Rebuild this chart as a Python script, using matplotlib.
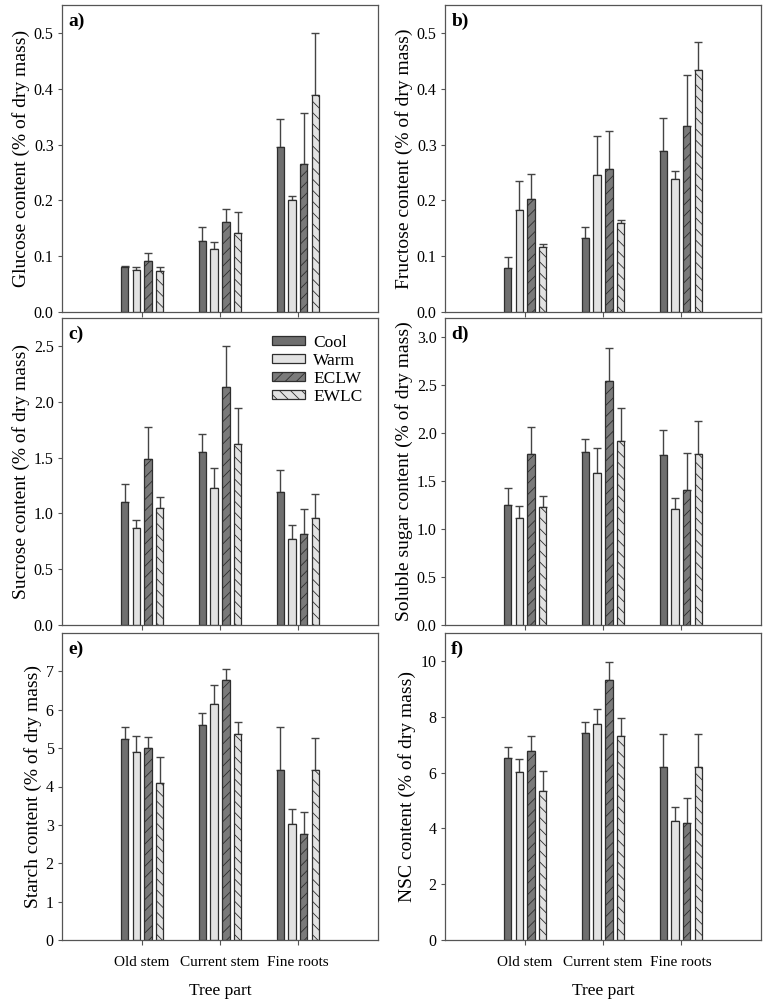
import matplotlib
matplotlib.use("Agg")
import matplotlib.pyplot as plt
import numpy as np
from matplotlib.ticker import FormatStrFormatter

plt.rcParams['font.family'] = ['Liberation Serif', 'DejaVu Serif']
plt.rcParams['hatch.linewidth'] = 0.6

parts = ["Old stem", "Current stem", "Fine roots"]
treatments = ["Cool", "Warm", "ECLW", "EWLC"]

# rows: Cool, Warm, ECLW, EWLC ; columns: Old stem, Current stem, Fine roots
glucose_mean = [[0.080, 0.128, 0.295], [0.075, 0.112, 0.200], [0.091, 0.161, 0.266], [0.073, 0.142, 0.389]]
glucose_se = [[0.002, 0.024, 0.051], [0.006, 0.013, 0.008], [0.014, 0.024, 0.091], [0.008, 0.038, 0.111]]

fructose_mean = [[0.078, 0.132, 0.289], [0.182, 0.245, 0.239], [0.202, 0.256, 0.334], [0.116, 0.160, 0.433]]
fructose_se = [[0.021, 0.020, 0.059], [0.052, 0.070, 0.014], [0.045, 0.068, 0.091], [0.006, 0.005, 0.051]]

sucrose_mean = [[1.10, 1.547, 1.19], [0.866, 1.225, 0.774], [1.49, 2.13, 0.818], [1.05, 1.625, 0.96]]
sucrose_se = [[0.16, 0.16, 0.20], [0.075, 0.18, 0.12], [0.28, 0.37, 0.22], [0.10, 0.32, 0.21]]

soluble_mean = [[1.25, 1.80, 1.77], [1.12, 1.58, 1.21], [1.78, 2.54, 1.41], [1.23, 1.92, 1.78]]
soluble_se = [[0.18, 0.136, 0.26], [0.12, 0.26, 0.115], [0.285, 0.35, 0.385], [0.11, 0.345, 0.35]]

starch_mean = [[5.24, 5.59, 4.43], [4.90, 6.15, 3.03], [5.00, 6.77, 2.75], [4.10, 5.37, 4.43]]
starch_se = [[0.31, 0.32, 1.13], [0.42, 0.50, 0.39], [0.30, 0.29, 0.58], [0.67, 0.31, 0.83]]

nsc_mean = [[6.51, 7.40, 6.21], [6.02, 7.73, 4.25], [6.78, 9.31, 4.18], [5.34, 7.30, 6.21]]
nsc_se = [[0.41, 0.40, 1.18], [0.48, 0.53, 0.50], [0.54, 0.65, 0.92], [0.70, 0.66, 1.18]]

panels = [
    ("a)", "Glucose content (% of dry mass)", glucose_mean, glucose_se, 0.55, np.arange(0, 0.51, 0.1), "%.1f"),
    ("b)", "Fructose content (% of dry mass)", fructose_mean, fructose_se, 0.55, np.arange(0, 0.51, 0.1), "%.1f"),
    ("c)", "Sucrose content (% of dry mass)", sucrose_mean, sucrose_se, 2.75, np.arange(0, 2.51, 0.5), "%.1f"),
    ("d)", "Soluble sugar content (% of dry mass)", soluble_mean, soluble_se, 3.2, np.arange(0, 3.01, 0.5), "%.1f"),
    ("e)", "Starch content (% of dry mass)", starch_mean, starch_se, 8.0, np.arange(0, 7.1, 1), "%d"),
    ("f)", "NSC content (% of dry mass)", nsc_mean, nsc_se, 11.0, np.arange(0, 10.1, 2), "%d"),
]

faces = ["#6f6f6f", "#e2e2e2", "#7a7a7a", "#e2e2e2"]
hatches = [None, None, "///", "\\\\\\"]
edge = "#2e2e2e"
frame = "#555555"

fig = plt.figure(figsize=(7.66, 10), dpi=100)
lefts = [62 / 766, 445 / 766]
w = 316 / 766
tops = [5, 318, 633]
h = 307 / 1000

x = np.arange(1, 4)
bw = 0.097
step = 0.15
offsets = [-1.5, -0.5, 0.5, 1.5]

for i, (lab, ylab, mean, se, ymax, yt, fmt) in enumerate(panels):
    r, c = divmod(i, 2)
    ax = fig.add_axes([lefts[c], 1 - tops[r] / 1000 - h, w, h])
    for k in range(4):
        xs = x + offsets[k] * step
        ax.bar(xs, mean[k], width=bw, color=faces[k], edgecolor=edge,
               linewidth=0.9, hatch=hatches[k], label=treatments[k], zorder=2)
        ax.errorbar(xs, mean[k], yerr=[np.zeros(3), se[k]], fmt='none',
                    ecolor="#444444", elinewidth=1.0, capsize=3.2, capthick=1.0, zorder=1)
    ax.set_xlim(-0.03, 4.03)
    ax.set_ylim(0, ymax)
    ax.set_yticks(yt)
    ax.yaxis.set_major_formatter(FormatStrFormatter(fmt))
    ax.set_xticks(x)
    if r == 2:
        ax.set_xticklabels(parts, fontsize=11)
        ax.set_xlabel("Tree part", fontsize=12.5, labelpad=10)
    else:
        ax.set_xticklabels([])
    ax.set_ylabel(ylab, fontsize=14, labelpad=3)
    ax.tick_params(axis='y', labelsize=11.5, length=3, width=0.8, color=frame, direction='out', pad=3)
    ax.tick_params(axis='x', length=3.5, width=0.8, color=frame, direction='out', pad=8)
    for s in ax.spines.values():
        s.set_color(frame)
        s.set_linewidth(0.9)
    ax.text(0.02, 0.975, lab, transform=ax.transAxes, ha='left', va='top',
            fontsize=14, fontweight='bold')
    if lab == "c)":
        ax.legend(loc='upper left', bbox_to_anchor=(0.625, 0.985), frameon=False,
                  fontsize=12.5, handlelength=1.9, handleheight=0.45, labelspacing=0.12,
                  handletextpad=0.5, borderaxespad=0.3)

fig.savefig("out.png", dpi=100)
